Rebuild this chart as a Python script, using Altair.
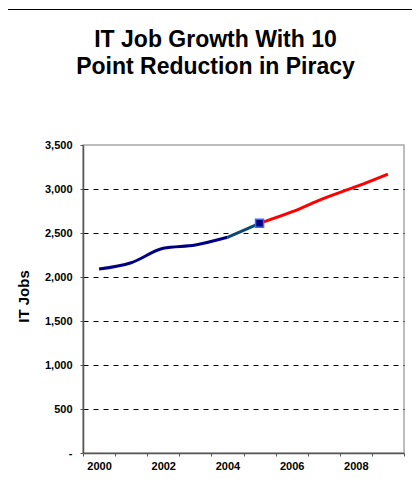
import altair as alt
import pandas as pd

years = [2000, 2001, 2002, 2003, 2004, 2005, 2006, 2007, 2008, 2009]
jobs = [2090, 2162, 2326, 2364, 2451, 2610, 2739, 2894, 3026, 3170]
title_lines = ["IT Job Growth With 10", "Point Reduction in Piracy"]
y_ticks = [0, 500, 1000, 1500, 2000, 2500, 3000, 3500]
y_title = "IT Jobs"

df = pd.DataFrame({"year": years, "jobs": jobs})

FONT = "Liberation Sans"

x_enc = alt.X(
    "year:O",
    scale=alt.Scale(type="band", paddingInner=0, paddingOuter=0),
    axis=alt.Axis(
        title=None,
        tickBand="extent",
        labelAngle=0,
        labelExpr="datum.value % 2 == 0 ? datum.label : ''",
        labelPadding=4,
    ),
)
y_enc = alt.Y(
    "jobs:Q",
    scale=alt.Scale(domain=[0, 3500], nice=False),
    axis=alt.Axis(
        values=y_ticks,
        labelExpr="datum.value == 0 ? '-' : format(datum.value, ',')",
        title=y_title,
        titleFont=FONT,
        titleFontSize=15,
        titleFontWeight="bold",
        titleColor="black",
        titleX=-55,
        titleY=151,
        titleBaseline="alphabetic",
        titleAlign="center",
        titleAngle=270,
        grid=True,
        gridColor="black",
        gridDash=[5, 5],
        gridWidth=1.2,
        gridOpacity={"condition": {"test": "datum.value == 0 || datum.value == 3500", "value": 0}, "value": 1},
        labelPadding=8,
    ),
)

base = alt.Chart(df)

navy = base.transform_filter(alt.datum.year <= 2004).mark_line(
    color="#000080", strokeWidth=3, interpolate="monotone"
).encode(x=x_enc, y=y_enc)

teal = base.transform_filter((alt.datum.year >= 2004) & (alt.datum.year <= 2005)).mark_line(
    color="#0a4a70", strokeWidth=3, interpolate="monotone"
).encode(x=x_enc, y=y_enc)

red = base.transform_filter(alt.datum.year >= 2005).mark_line(
    color="#ff0000", strokeWidth=3, interpolate="monotone"
).encode(x=x_enc, y=y_enc)

marker = base.transform_filter(alt.datum.year == 2005).mark_point(
    shape="square", filled=True, fill="#000080", stroke="#3b6cff", strokeWidth=1.5, size=64, opacity=1
).encode(x=x_enc, y=y_enc)

frame = alt.Chart(pd.DataFrame({"f": [0]})).mark_rect(
    fill="transparent", stroke="black", strokeWidth=1
).encode(x=alt.value(-75.5), x2=alt.value(420), y=alt.value(-135.5), y2=alt.value(420))

chart = alt.layer(frame, navy, teal, red, marker).properties(
    width=321,
    height=308,
    title=alt.TitleParams(
        text=title_lines,
        font=FONT,
        fontSize=23,
        fontWeight="bold",
        color="black",
        anchor="middle",
        dx=-28,
        offset=0,
        dy=70,
        lineHeight=27,
    ),
    autosize=alt.AutoSizeParams(type="none"),
    padding={"left": 75, "top": 137, "right": 8, "bottom": 38},
).configure_view(
    stroke="#a8a8a8", strokeWidth=1.5
).configure_axis(
    domainColor="#555555",
    domainWidth=1.5,
    tickColor="#555555",
    tickSize=3,
    labelFont=FONT,
    labelFontSize=11,
    labelFontWeight="bold",
    labelColor="black",
)

chart.save("out.html", embed_options={"renderer": "svg", "actions": False})
